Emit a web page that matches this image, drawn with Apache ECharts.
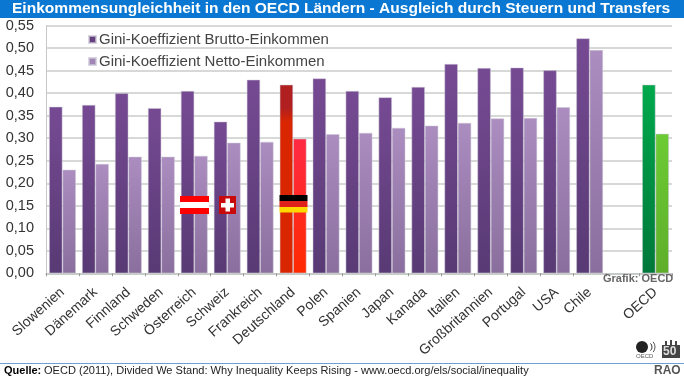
<!DOCTYPE html>
<html>
<head>
<meta charset="utf-8">
<script src="https://cdn.jsdelivr.net/npm/echarts@6/dist/echarts.min.js"></script>
<style>
html, body { margin: 0; padding: 0; background: #fff; }
#chart { width: 684px; height: 379px; }
</style>
</head>
<body>
<div id="chart"></div>
<script>
var countries = ['Slowenien', 'Dänemark', 'Finnland', 'Schweden', 'Österreich', 'Schweiz', 'Frankreich', 'Deutschland', 'Polen', 'Spanien', 'Japan', 'Kanada', 'Italien', 'Großbritannien', 'Portugal', 'USA', 'Chile', '', 'OECD'];
var brutto = [0.370, 0.374, 0.400, 0.367, 0.405, 0.337, 0.430, 0.419, 0.433, 0.405, 0.391, 0.414, 0.465, 0.456, 0.457, 0.451, 0.522, null, 0.419];
var netto = [0.230, 0.243, 0.259, 0.259, 0.261, 0.290, 0.292, 0.299, 0.309, 0.312, 0.323, 0.328, 0.334, 0.344, 0.345, 0.369, 0.496, null, 0.310];

function grad(top, bottom) {
    return new echarts.graphic.LinearGradient(0, 0, 0, 1, [
        { offset: 0, color: top },
        { offset: 1, color: bottom }
    ]);
}

var font = '"Liberation Sans", Arial, sans-serif';
var bruttoColor = grad('#764a93', '#583a74');
var nettoColor = grad('#ab8dbf', '#8a6f9e');
var redDark = new echarts.graphic.LinearGradient(0, 0, 0, 1, [
    { offset: 0, color: '#b02020' },
    { offset: 0.12, color: '#b02020' },
    { offset: 0.2, color: '#d92600' },
    { offset: 1, color: '#d92600' }
]);

function barColor(normal, red, green) {
    return function (params) {
        if (params.name === 'Deutschland') { return red; }
        if (params.name === 'OECD') { return green; }
        return normal;
    };
}

var chart = echarts.init(document.getElementById('chart'), null, { renderer: 'canvas' });

var option = {
    animation: false,
    backgroundColor: '#fff',
    title: {
        text: 'Einkommensungleichheit in den OECD Ländern - Ausgleich durch Steuern und Transfers',
        left: 12,
        top: 0,
        padding: 0,
        textStyle: { color: '#fff', fontFamily: font, fontWeight: 'bold', fontSize: 15.55, lineHeight: 18 },
        z: 10
    },
    legend: {
        left: 83,
        top: 27,
        orient: 'vertical',
        itemWidth: 7,
        itemHeight: 7,
        itemGap: 7,
        icon: 'rect',
        textStyle: { color: '#444', fontFamily: font, fontSize: 15, padding: [0, 0, 0, -2] },
        data: [
            { name: 'Gini-Koeffizient Brutto-Einkommen', itemStyle: { color: '#64407f' } },
            { name: 'Gini-Koeffizient Netto-Einkommen', itemStyle: { color: '#a185b4' } }
        ]
    },
    grid: { left: 46, right: 12, top: 25.7, bottom: 105.7 },
    xAxis: {
        type: 'category',
        data: countries,
        axisLine: { lineStyle: { color: '#c4c8c4', width: 1.5 } },
        axisTick: { show: true, length: 3, lineStyle: { color: '#999' } },
        axisLabel: {
            interval: 0,
            rotate: 42,
            margin: 17,
            color: '#333',
            fontFamily: font,
            fontSize: 14
        }
    },
    yAxis: {
        type: 'value',
        min: 0,
        max: 0.55,
        interval: 0.05,
        axisLine: { show: true, lineStyle: { color: '#c4c8c4', width: 1 } },
        axisTick: { show: false },
        splitLine: { lineStyle: { color: '#c8ccc8', width: 1.5 } },
        axisLabel: {
            margin: 12,
            color: '#333',
            fontFamily: font,
            fontSize: 14.5,
            formatter: function (value) {
                return value.toFixed(2).replace('.', ',');
            }
        }
    },
    series: [
        {
            name: 'Gini-Koeffizient Brutto-Einkommen',
            type: 'bar',
            data: brutto,
            barWidth: 13.4,
            barGap: 0,
            itemStyle: {
                color: barColor(bruttoColor, redDark, grad('#00a84c', '#00783a')),
                borderColor: 'rgba(205,200,215,0.7)',
                borderWidth: 0.7
            }
        },
        {
            name: 'Gini-Koeffizient Netto-Einkommen',
            type: 'bar',
            data: netto,
            barWidth: 13.4,
            itemStyle: {
                color: barColor(nettoColor, grad('#ff2a44', '#ff2a00'), grad('#6ccb34', '#5fae2a')),
                borderColor: 'rgba(205,200,215,0.7)',
                borderWidth: 0.7
            }
        }
    ],
    graphic: [
        // Kopfbalken
        { type: 'rect', z: 1, shape: { x: 0, y: 0, width: 684, height: 18 }, style: { fill: '#0a78d2' } },
        // Flagge Oesterreich
        { type: 'rect', z: 20, shape: { x: 180, y: 196, width: 29, height: 18 }, style: { fill: '#ff0000' } },
        { type: 'rect', z: 21, shape: { x: 180, y: 202, width: 29, height: 6 }, style: { fill: '#fff' } },
        // Flagge Schweiz
        { type: 'rect', z: 20, shape: { x: 219, y: 196, width: 17, height: 18 }, style: { fill: '#c80a0a' } },
        { type: 'rect', z: 21, shape: { x: 225.5, y: 198.5, width: 4.5, height: 13 }, style: { fill: '#fff' } },
        { type: 'rect', z: 21, shape: { x: 221, y: 203, width: 13, height: 4.5 }, style: { fill: '#fff' } },
        // Flagge Deutschland
        { type: 'rect', z: 20, shape: { x: 279.5, y: 195, width: 28, height: 6 }, style: { fill: '#000' } },
        { type: 'rect', z: 20, shape: { x: 279.5, y: 201, width: 28, height: 6 }, style: { fill: '#e0201a' } },
        { type: 'rect', z: 20, shape: { x: 279.5, y: 207, width: 28, height: 5.5 }, style: { fill: '#ffd800' } },
        // Fussbereich
        { type: 'text', z: 20, style: { x: 603, y: 273.5, text: 'Grafik: OECD', fill: '#666', font: 'bold 11px ' + font } },
        { type: 'line', z: 20, shape: { x1: 0, y1: 363.5, x2: 684, y2: 363.5 }, style: { stroke: '#6c9fd2', lineWidth: 1 } },
        { type: 'text', z: 20, style: { x: 4, y: 365, text: 'Quelle:', fill: '#000', font: 'bold 11px ' + font } },
        { type: 'text', z: 20, style: { x: 44, y: 365, text: 'OECD (2011), Divided We Stand: Why Inequality Keeps Rising - www.oecd.org/els/social/inequality', fill: '#222', font: '11.05px ' + font } },
        { type: 'text', z: 20, style: { x: 654, y: 365, text: 'RAO', fill: '#555', font: 'bold 12px ' + font } },
        // OECD Logo
        { type: 'circle', z: 20, shape: { cx: 642, cy: 347, r: 6 }, style: { fill: '#222' } },
        { type: 'arc', z: 20, shape: { cx: 647, cy: 347, r: 5, startAngle: -0.8, endAngle: 0.8 }, style: { stroke: '#333', fill: null, lineWidth: 1 } },
        { type: 'arc', z: 20, shape: { cx: 647, cy: 347, r: 8, startAngle: -0.7, endAngle: 0.7 }, style: { stroke: '#555', fill: null, lineWidth: 1 } },
        { type: 'text', z: 20, style: { x: 636, y: 353, text: 'OECD', fill: '#555', font: '6px ' + font } },
        { type: 'rect', z: 20, shape: { x: 662, y: 345, width: 18, height: 13 }, style: { fill: '#444' } },
        { type: 'rect', z: 20, shape: { x: 665, y: 341, width: 2, height: 4 }, style: { fill: '#444' } },
        { type: 'rect', z: 20, shape: { x: 670, y: 340, width: 2, height: 5 }, style: { fill: '#444' } },
        { type: 'rect', z: 20, shape: { x: 675, y: 341, width: 2, height: 4 }, style: { fill: '#444' } },
        { type: 'text', z: 20, style: { x: 663, y: 346, text: '50', fill: '#ddd', font: 'bold 12px ' + font } }
    ]
};
chart.setOption(option);

window.addEventListener('resize', function () {
    chart.resize();
});
</script>
</body>
</html>
